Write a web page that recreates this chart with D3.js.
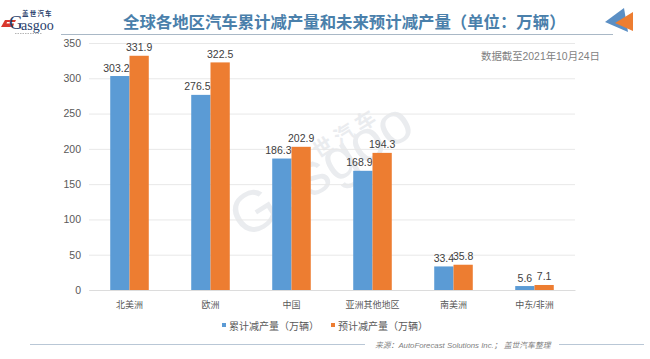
<!DOCTYPE html>
<html>
<head>
<meta charset="utf-8">
<script src="https://cdnjs.cloudflare.com/ajax/libs/d3/7.8.5/d3.min.js"></script>
<style>
	html, body { margin: 0; padding: 0; background: #fff; }
	svg { display: block; }
	text { font-family: "Liberation Sans", "Noto Sans CJK SC", sans-serif; }
</style>
</head>
<body>
<div id="chart"></div>
<script>
"use strict";

const categories = ["北美洲", "欧洲", "中国", "亚洲其他地区", "南美洲", "中东/非洲"];
const cumulative = [303.2, 276.5, 186.3, 168.9, 33.4, 5.6];
const forecast = [331.9, 322.5, 202.9, 194.3, 35.8, 7.1];
const yTicks = [0, 50, 100, 150, 200, 250, 300, 350];
const seriesNames = ["累计减产量（万辆）", "预计减产量（万辆）"];
const seriesColors = ["#5b9bd5", "#ed7d31"];

const width = 650,
	height = 359,
	padding = {top: 43, right: 75, bottom: 69, left: 89};

const svg = d3.select("#chart")
	.append("svg")
	.attr("width", width)
	.attr("height", height);

/*
 *	Watermark, behind everything.
 */
const mark = svg.append("g")
	.attr("fill", "#eaecef");

mark.append("text")
	.attr("transform", "translate(245, 240) rotate(-32)")
	.style("font-size", "58px")
	.text("Gasgoo");

mark.append("text")
	.attr("transform", "translate(297, 172) rotate(-32)")
	.style("font-size", "20px")
	.style("font-weight", "bold")
	.style("letter-spacing", "5px")
	.text("盖世汽车");

/*
 *	Scales and axes.
 */
const xScale = d3.scaleBand()
	.domain(categories)
	.range([padding.left, width - padding.right])
	.paddingInner(0.524)
	.paddingOuter(0.262);

const xSeries = d3.scaleBand()
	.domain([0, 1])
	.range([0, xScale.bandwidth()]);

const yScale = d3.scaleLinear()
	.domain([0, 350])
	.range([height - padding.bottom, padding.top]);

const yAxis = d3.axisLeft(yScale)
	.tickValues(yTicks)
	.tickSize(-(width - padding.left - padding.right))
	.tickPadding(8);

const xAxis = d3.axisBottom(xScale)
	.tickSize(0)
	.tickPadding(12);

const gY = svg.append("g")
	.attr("transform", "translate(" + padding.left + ", 0)")
	.call(yAxis);

gY.select(".domain").remove();
gY.selectAll("line").attr("stroke", "#e8e8e8");
gY.selectAll("text")
	.attr("fill", "#595959")
	.style("font-size", "10.5px");

const gX = svg.append("g")
	.attr("transform", "translate(0, " + (height - padding.bottom) + ")")
	.call(xAxis);

gX.select(".domain").attr("stroke", "#dcdcdc");
gX.selectAll("text")
	.attr("fill", "#595959")
	.style("font-size", "9px");

/*
 *	Bars and value labels. The blue labels of the tall groups sit a bit
 *	to the left so they clear the orange bar.
 */
[cumulative, forecast].forEach((values, j) => {
	const g = svg.append("g").classed("series", true);

	g.selectAll("rect")
		.data(values)
		.enter()
		.append("rect")
		.attr("x", (d, i) => xScale(categories[i]) + xSeries(j))
		.attr("y", d => yScale(d))
		.attr("width", xSeries.bandwidth())
		.attr("height", d => yScale(0) - yScale(d))
		.attr("fill", seriesColors[j]);

	g.selectAll("text")
		.data(values)
		.enter()
		.append("text")
		.attr("x", (d, i) => xScale(categories[i]) + xSeries(j) + xSeries.bandwidth() / 2 + (j == 0 && d > 100 ? -3.5 : 0))
		.attr("y", d => yScale(d) - 4.5)
		.attr("text-anchor", "middle")
		.attr("fill", "#404040")
		.style("font-size", "10.5px")
		.text(d => d);
});

/*
 *	Legend.
 */
const legendX = [222, 331];
seriesNames.forEach((name, j) => {
	svg.append("rect")
		.attr("x", legendX[j])
		.attr("y", 323)
		.attr("width", 4)
		.attr("height", 4)
		.attr("fill", seriesColors[j]);

	svg.append("text")
		.attr("x", legendX[j] + 7)
		.attr("y", 329.5)
		.attr("fill", "#595959")
		.style("font-size", "10px")
		.text(name);
});

/*
 *	Title, rules, note and source.
 */
svg.append("text")
	.attr("x", 123)
	.attr("y", 27.5)
	.attr("fill", "#4a80ab")
	.style("font-size", "16.4px")
	.style("font-weight", "bold")
	.text("全球各地区汽车累计减产量和未来预计减产量（单位：万辆）");

svg.append("line")
	.attr("x1", 61).attr("x2", 613)
	.attr("y1", 34.5).attr("y2", 34.5)
	.attr("stroke", "#a9b8c6")
	.attr("stroke-width", 1.2);

svg.append("text")
	.attr("x", 481)
	.attr("y", 60)
	.attr("fill", "#7f7f7f")
	.style("font-size", "10.4px")
	.text("数据截至2021年10月24日");

svg.selectAll("line.foot")
	.data([[30, 365], [559, 644]])
	.enter()
	.append("line")
	.classed("foot", true)
	.attr("x1", d => d[0]).attr("x2", d => d[1])
	.attr("y1", 344.5).attr("y2", 344.5)
	.attr("stroke", "#b9c7d6");

svg.append("text")
	.attr("x", 375)
	.attr("y", 347.5)
	.attr("fill", "#7f7f7f")
	.style("font-size", "7.8px")
	.style("font-style", "italic")
	.text("来源：AutoForecast Solutions Inc.； 盖世汽车整理");

/*
 *	Corner arrow.
 */
svg.append("path")
	.attr("d", "M605,22 L624,8 L628,32 Z")
	.attr("fill", "#5b8fc4");
svg.append("path")
	.attr("d", "M615,23 L633,12 L633,31 Z")
	.attr("fill", "#ed7d31");

/*
 *	Logo.
 */
const logo = svg.append("g");

logo.append("path")
	.attr("d", "M1,27 L5,20 L16,20 L15,22 L7,22 L6.5,23.5 L14,23.5 L13,27 Z")
	.attr("fill", "#d9372c");

logo.append("text")
	.attr("x", 9)
	.attr("y", 29)
	.attr("fill", "#27406b")
	.style("font-family", "'Liberation Serif', serif")
	.style("font-size", "19px")
	.text("G");

logo.append("text")
	.attr("x", 21)
	.attr("y", 29.5)
	.attr("fill", "#27406b")
	.style("font-family", "'Liberation Serif', serif")
	.style("font-size", "14px")
	.text("asgoo");

logo.append("text")
	.attr("x", 22)
	.attr("y", 15.5)
	.attr("fill", "#27406b")
	.style("font-size", "6.5px")
	.style("font-weight", "bold")
	.style("letter-spacing", "1.2px")
	.text("盖世汽车");

logo.append("line")
	.attr("x1", 15).attr("x2", 42)
	.attr("y1", 33.5).attr("y2", 33.5)
	.attr("stroke", "#b5b5b5")
	.attr("stroke-dasharray", "1.5 1");
</script>
</body>
</html>
